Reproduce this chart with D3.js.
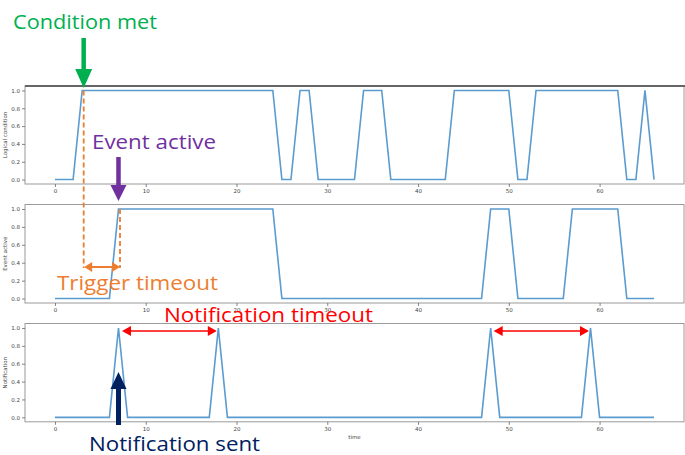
<!DOCTYPE html>
<html>
<head>
<meta charset="utf-8">
<script src="https://cdn.jsdelivr.net/npm/d3@7"></script>
<style>
  html, body { margin: 0; padding: 0; background: #fff; }
  svg { display: block; }
</style>
</head>
<body>
<svg id="chart" width="685" height="455"></svg>
<script>
// ---- data (time index = position in array, 0..66) ----
const conditionValues = [0,0,0,
  1,1,1,1,1,1,1,1,1,1,1,1,1,1,1,1,1,1,1,1,1,1,
  0,0, 1,1, 0,0,0,0,0, 1,1,1, 0,0,0,0,0,0,0,
  1,1,1,1,1,1,1, 0,0, 1,1,1,1,1,1,1,1,1,1, 0,0, 1, 0];
const eventValues = [0,0,0,0,0,0,0,
  1,1,1,1,1,1,1,1,1,1,1,1,1,1,1,1,1,1,
  0,0,0,0,0,0,0,0,0,0,0,0,0,0,0,0,0,0,0,0,0,0,0,
  1,1,1, 0,0,0,0,0,0, 1,1,1,1,1,1, 0,0,0,0];
const notificationValues = [0,0,0,0,0,0,0, 1,
  0,0,0,0,0,0,0,0,0,0, 1,
  0,0,0,0,0,0,0,0,0,0,0,0,0,0,0,0,0,0,0,0,0,0,0,0,0,0,0,0,0, 1,
  0,0,0,0,0,0,0,0,0,0, 1, 0,0,0,0,0,0,0];
const panelLabels = ["Logical condition", "Event active", "Notification"];
const xTicks = [0, 10, 20, 30, 40, 50, 60];
const yTicks = [0.0, 0.2, 0.4, 0.6, 0.8, 1.0];
const xAxisTitle = "time";

const svg = d3.select("#chart");
const x = d3.scaleLinear().domain([-3.3, 69.3]).range([25, 684]);

const panels = [
  { label: panelLabels[0], values: conditionValues, top: 86, bottom: 184 },
  { label: panelLabels[1], values: eventValues, top: 204.5, bottom: 303 },
  { label: panelLabels[2], values: notificationValues, top: 323.5, bottom: 421.8 }
];

const tickFont = "DejaVu Sans, sans-serif";
panels.forEach((p, i) => {
  p.y = d3.scaleLinear().domain([-0.05, 1.05]).range([p.bottom, p.top]);
  const g = svg.append("g");
  g.append("rect").attr("x", x.range()[0]).attr("y", p.top)
    .attr("width", x.range()[1] - x.range()[0]).attr("height", p.bottom - p.top)
    .attr("fill", "#fff").attr("stroke", "#9a9a9a").attr("stroke-width", 1);
  if (i === 0) {
    g.append("line").attr("x1", x.range()[0]).attr("x2", 685)
      .attr("y1", p.top).attr("y2", p.top).attr("stroke", "#666").attr("stroke-width", 2);
  }
  const xa = g.append("g").attr("transform", `translate(0,${p.bottom})`)
    .call(d3.axisBottom(x).tickValues(xTicks).tickSize(3).tickPadding(2).tickFormat(d3.format("d")));
  const ya = g.append("g").attr("transform", `translate(${x.range()[0]},0)`)
    .call(d3.axisLeft(p.y).tickValues(yTicks).tickSize(3).tickPadding(2).tickFormat(d3.format(".1f")));
  [xa, ya].forEach(a => {
    a.select(".domain").remove();
    a.selectAll(".tick line").attr("stroke", "#666").attr("stroke-width", 0.8);
    a.selectAll(".tick text").attr("fill", "#444").style("font-size", "5.5px").style("font-family", tickFont);
  });
  g.append("text")
    .attr("transform", `translate(7,${(p.top + p.bottom) / 2}) rotate(-90)`)
    .attr("text-anchor", "middle").attr("fill", "#444")
    .style("font-size", "5.5px").style("font-family", tickFont)
    .text(p.label);
  const line = d3.line().x((d, k) => x(k)).y(d => p.y(d));
  g.append("path").datum(p.values)
    .attr("d", line).attr("fill", "none")
    .attr("stroke", "#5a9bd0").attr("stroke-width", 1.6).attr("stroke-linejoin", "miter");
});

svg.append("text").attr("x", x(33)).attr("y", 439).attr("text-anchor", "middle")
  .attr("fill", "#444").style("font-size", "5.5px").style("font-family", tickFont).text(xAxisTitle);

// ---- annotations ----
const annFont = "Open Sans, Noto Sans, sans-serif";
function label(txt, x0, base, width, color) {
  svg.append("text").attr("x", x0).attr("y", base)
    .attr("textLength", width).attr("lengthAdjust", "spacingAndGlyphs")
    .attr("fill", color).style("font-size", "19.5px").style("font-family", annFont)
    .text(txt);
}
function blockArrow(cx, yStart, yTip, shaftW, headLen, headHalf, color) {
  const dir = yTip > yStart ? 1 : -1;
  const yBase = yTip - dir * headLen;
  svg.append("path")
    .attr("d", `M${cx - shaftW / 2},${yStart} L${cx - shaftW / 2},${yBase} L${cx - headHalf},${yBase} L${cx},${yTip} L${cx + headHalf},${yBase} L${cx + shaftW / 2},${yBase} L${cx + shaftW / 2},${yStart} Z`)
    .attr("fill", color);
}
function doubleArrow(x1, x2, yy, color, sw, hl, hh) {
  svg.append("line").attr("x1", x1 + hl * 0.8).attr("x2", x2 - hl * 0.8)
    .attr("y1", yy).attr("y2", yy).attr("stroke", color).attr("stroke-width", sw);
  svg.append("path").attr("d", `M${x1},${yy} L${x1 + hl},${yy - hh} L${x1 + hl},${yy + hh} Z`).attr("fill", color);
  svg.append("path").attr("d", `M${x2},${yy} L${x2 - hl},${yy - hh} L${x2 - hl},${yy + hh} Z`).attr("fill", color);
}

const p1 = panels[0], p2 = panels[1], p3 = panels[2];
const orange = "#ed7d31";

svg.append("line").attr("x1", x(3) + 1.5).attr("x2", x(3) + 1.5)
  .attr("y1", p1.y(1)).attr("y2", 268)
  .attr("stroke", orange).attr("stroke-width", 1.8).attr("stroke-dasharray", "5,3");
svg.append("line").attr("x1", x(7) + 1.5).attr("x2", x(7) + 1.5)
  .attr("y1", p2.y(1)).attr("y2", 268)
  .attr("stroke", orange).attr("stroke-width", 1.8).attr("stroke-dasharray", "5,3");
doubleArrow(x(3) + 2, x(7) + 1.5, 267, orange, 2, 8, 5);

label("Condition met", 13, 29, 144, "#00b050");
blockArrow(x(3) + 1.5, 38, 88, 4.5, 19, 8.5, "#00b050");

label("Event active", 92, 149, 124, "#7030a0");
blockArrow(x(7), 157, 201, 4.5, 16, 8, "#7030a0");

label("Trigger timeout", 57, 290, 161, orange);

label("Notification timeout", 164, 322, 209, "#ff0000");
doubleArrow(x(7) + 3.5, x(18) - 1.5, 331, "#ff0000", 1.5, 9, 5);
doubleArrow(x(48) + 3, x(59) - 1.5, 331, "#ff0000", 1.5, 9, 5);

blockArrow(x(7), 425, 372, 5, 17, 8, "#002060");
label("Notification sent", 89, 450.5, 171, "#002060");
</script>
</body>
</html>
